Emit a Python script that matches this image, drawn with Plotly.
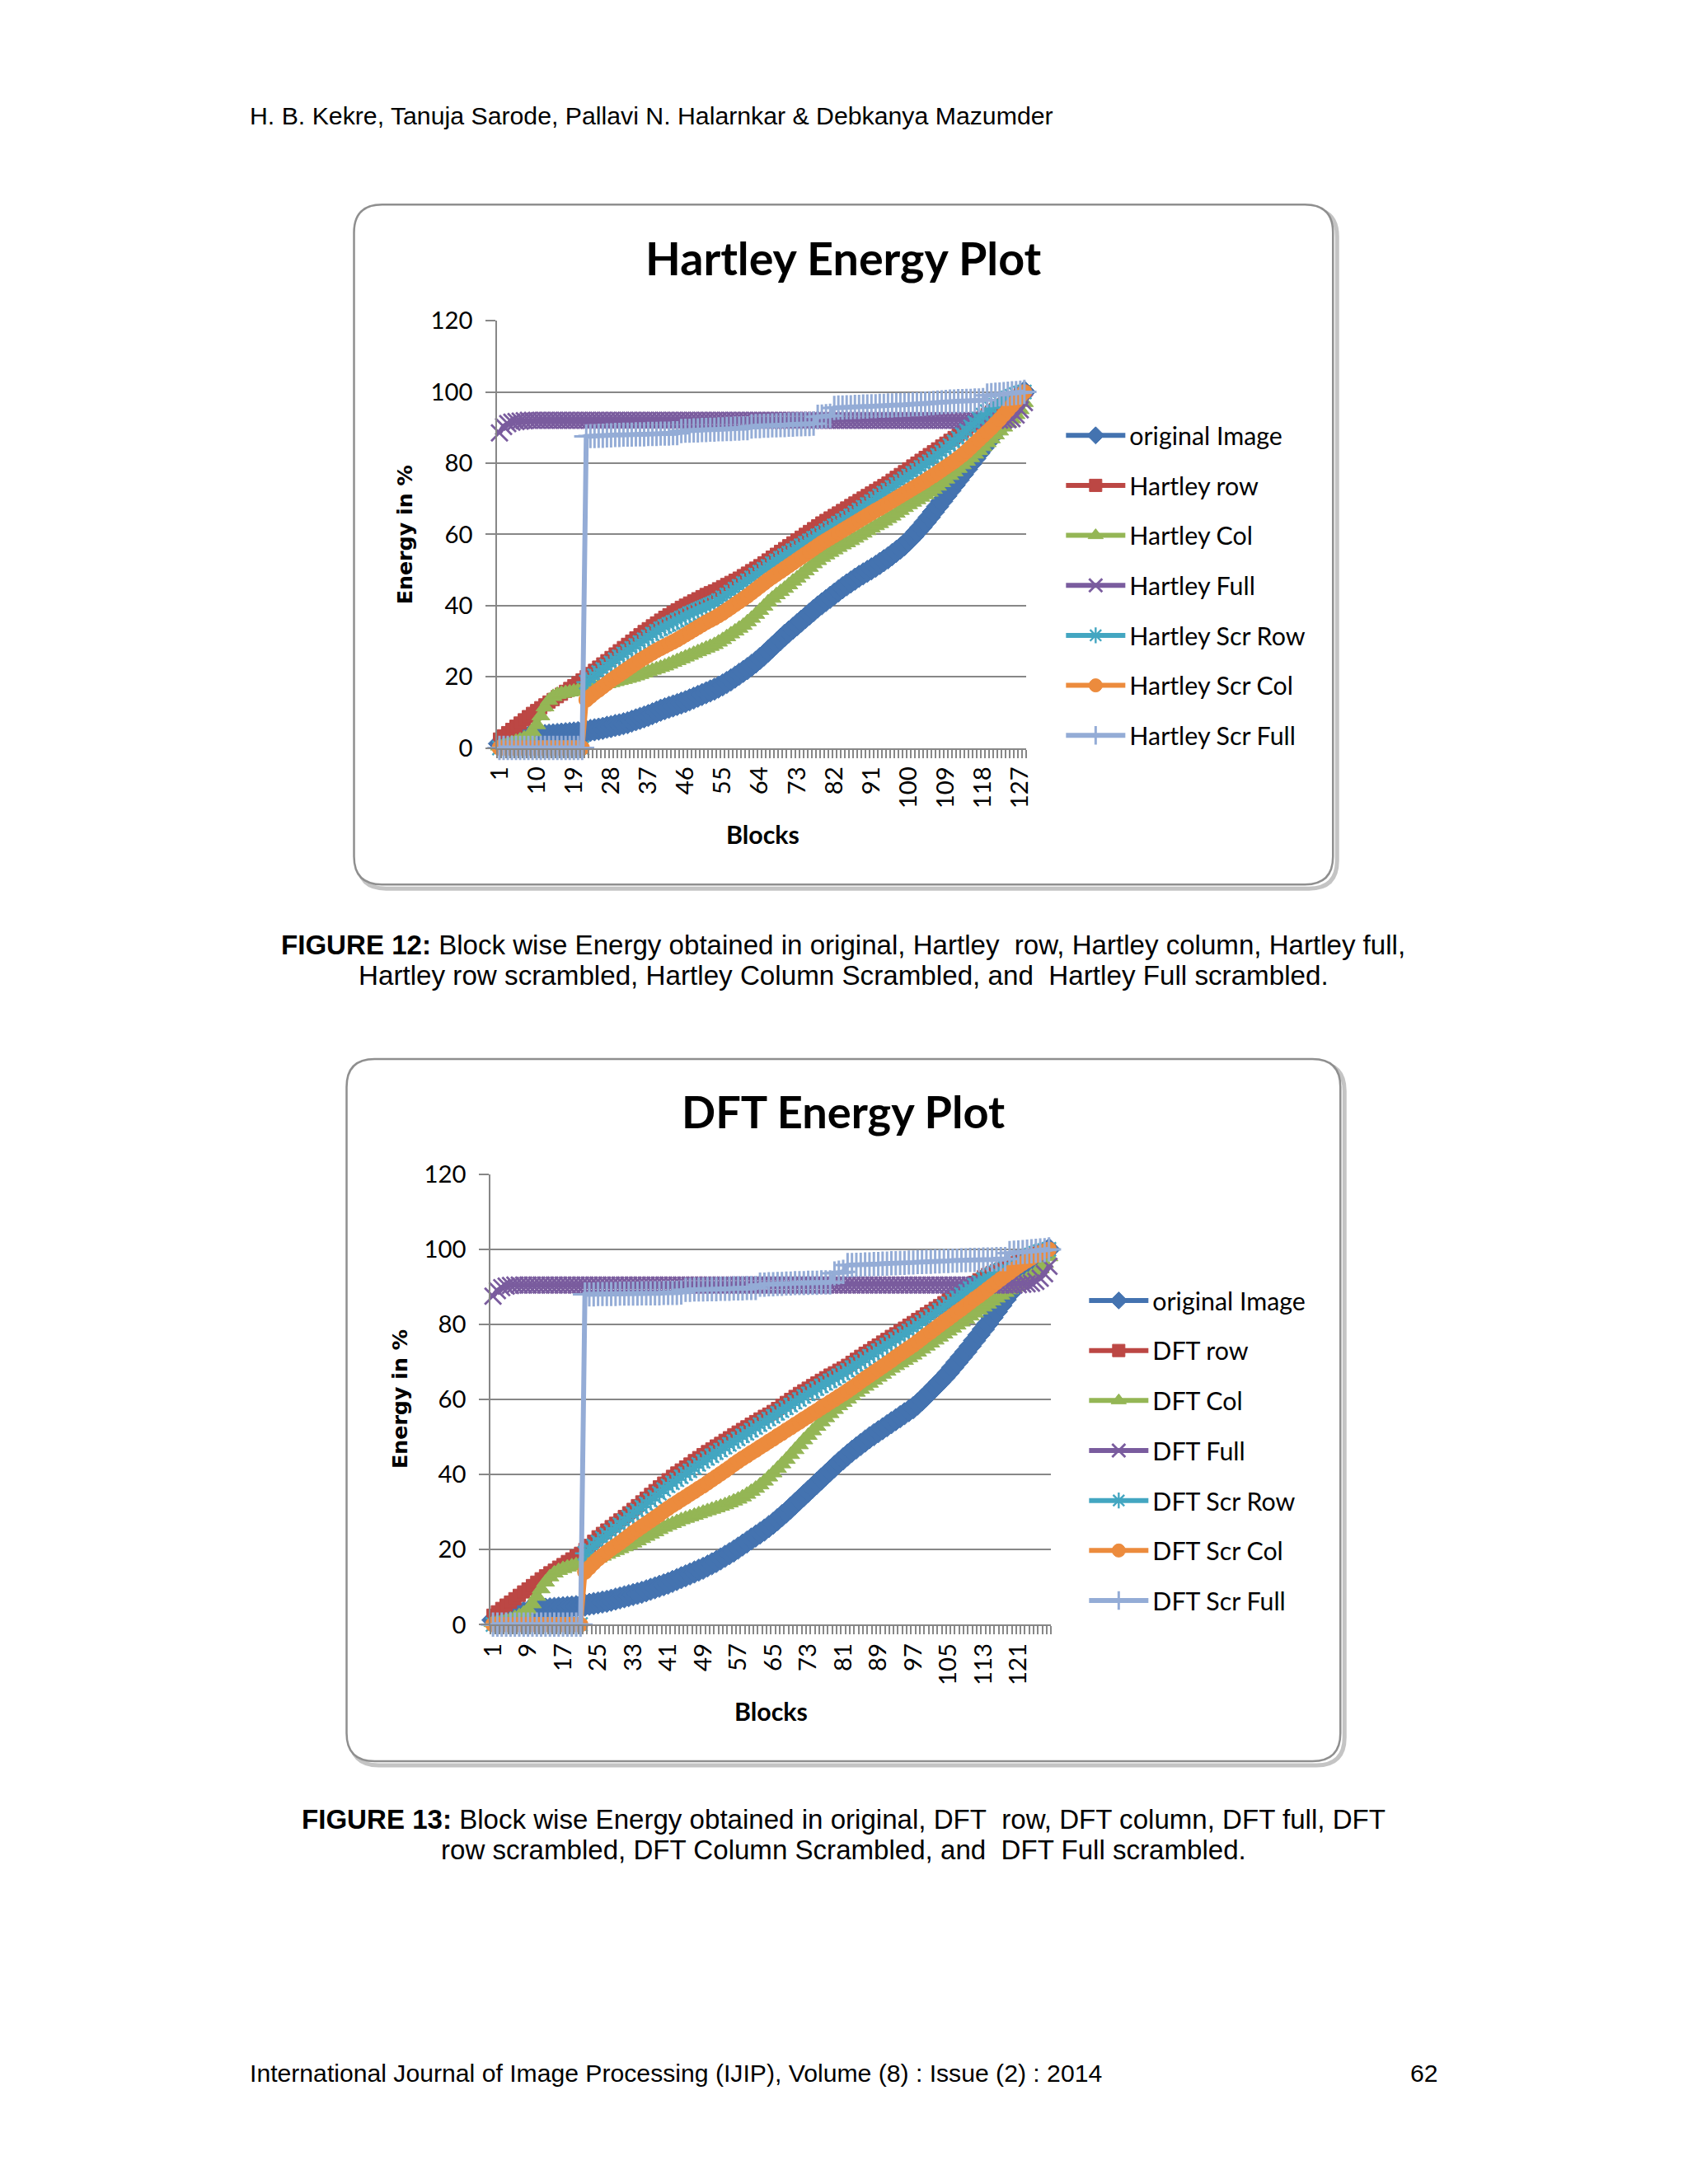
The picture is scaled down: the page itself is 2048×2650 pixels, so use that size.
import plotly.graph_objects as go

W, H = 2048, 2650
FONT = "Lato"
TEXT_FONT = "Liberation Sans"
GRID = "#878787"

# ---------------- data (cumulative energy in %, per block) ----------------
BLOCKS = list(range(1, 129))
Y_TICKS = [0, 20, 40, 60, 80, 100, 120]
HARTLEY_TICKS = [1, 10, 19, 28, 37, 46, 55, 64, 73, 82, 91, 100, 109, 118, 127]
DFT_TICKS = [1, 9, 17, 25, 33, 41, 49, 57, 65, 73, 81, 89, 97, 105, 113, 121]

HARTLEY_NAMES = ["original Image", "Hartley row", "Hartley Col", "Hartley Full",
                 "Hartley Scr Row", "Hartley Scr Col", "Hartley Scr Full"]
DFT_NAMES = ["original Image", "DFT row", "DFT Col", "DFT Full",
             "DFT Scr Row", "DFT Scr Col", "DFT Scr Full"]

hartley_original = [
    1.2, 1.5, 1.8, 2.1, 2.4, 2.6, 2.8, 3.0, 3.2, 3.3,
    3.4, 3.5, 3.6, 3.7, 3.8, 3.9, 4.0, 4.1, 4.2, 4.3,
    4.5, 4.7, 4.9, 5.1, 5.3, 5.5, 5.8, 6.0, 6.3, 6.5,
    6.8, 7.1, 7.5, 7.9, 8.3, 8.7, 9.1, 9.6, 10.1, 10.6,
    11.0, 11.4, 11.8, 12.2, 12.6, 13.0, 13.5, 14.0, 14.5, 15.0,
    15.5, 16.0, 16.5, 17.1, 17.7, 18.4, 19.1, 19.9, 20.7, 21.5,
    22.3, 23.2, 24.1, 25.1, 26.1, 27.2, 28.3, 29.4, 30.5, 31.6,
    32.6, 33.6, 34.6, 35.6, 36.6, 37.6, 38.6, 39.6, 40.5, 41.4,
    42.3, 43.2, 44.1, 45.0, 45.8, 46.6, 47.4, 48.2, 48.9, 49.6,
    50.3, 51.0, 51.8, 52.6, 53.4, 54.3, 55.2, 56.1, 57.1, 58.2,
    59.4, 60.7, 62.0, 63.4, 64.8, 66.3, 67.8, 69.3, 70.8, 72.3,
    73.8, 75.3, 76.8, 78.3, 79.8, 81.3, 82.8, 84.3, 85.8, 87.4,
    89.0, 90.7, 92.4, 94.1, 95.8, 97.4, 98.9, 100.0]
hartley_row = [
    2.5, 3.4, 4.3, 5.2, 6.1, 7.0, 7.9, 8.8, 9.7, 10.5,
    11.3, 12.1, 12.9, 13.6, 14.4, 15.1, 15.9, 16.7, 17.5, 18.3,
    19.1, 20.0, 20.9, 21.8, 22.7, 23.6, 24.5, 25.4, 26.4, 27.3,
    28.2, 29.1, 30.0, 30.9, 31.8, 32.7, 33.5, 34.3, 35.1, 35.9,
    36.7, 37.4, 38.1, 38.8, 39.5, 40.1, 40.7, 41.3, 41.9, 42.5,
    43.1, 43.6, 44.1, 44.7, 45.3, 45.9, 46.5, 47.1, 47.7, 48.4,
    49.1, 49.8, 50.5, 51.2, 52.0, 52.8, 53.6, 54.4, 55.2, 56.0,
    56.8, 57.6, 58.4, 59.2, 60.0, 60.8, 61.6, 62.4, 63.2, 63.9,
    64.6, 65.3, 66.0, 66.7, 67.4, 68.1, 68.8, 69.5, 70.2, 70.9,
    71.6, 72.3, 73.0, 73.7, 74.4, 75.2, 76.0, 76.8, 77.6, 78.4,
    79.2, 80.0, 80.8, 81.6, 82.4, 83.2, 84.0, 84.8, 85.6, 86.4,
    87.2, 88.0, 88.8, 89.6, 90.4, 91.2, 92.0, 92.8, 93.6, 94.3,
    95.0, 95.7, 96.4, 97.1, 97.8, 98.5, 99.2, 100.0]
hartley_col = [
    0.5, 0.8, 1.1, 1.4, 1.8, 2.2, 2.7, 3.3, 4.5, 6.5,
    9.0, 11.5, 13.3, 14.4, 15.0, 15.3, 15.5, 15.7, 15.9, 16.1,
    16.3, 16.5, 16.8, 17.1, 17.4, 17.7, 18.0, 18.3, 18.6, 18.9,
    19.2, 19.5, 19.8, 20.2, 20.6, 21.0, 21.4, 21.8, 22.2, 22.6,
    23.0, 23.5, 24.0, 24.5, 25.0, 25.5, 26.0, 26.5, 27.0, 27.5,
    28.0, 28.5, 29.0, 29.7, 30.4, 31.2, 32.0, 32.8, 33.6, 34.4,
    35.4, 36.4, 37.5, 38.6, 39.8, 41.0, 42.0, 43.0, 43.9, 44.8,
    45.8, 46.8, 47.7, 48.7, 49.7, 50.7, 51.7, 52.6, 53.5, 54.2,
    54.9, 55.6, 56.3, 57.0, 57.6, 58.2, 58.9, 59.6, 60.3, 61.0,
    61.7, 62.4, 63.0, 63.7, 64.4, 65.1, 65.9, 66.7, 67.5, 68.3,
    69.0, 69.7, 70.4, 71.1, 71.8, 72.6, 73.5, 74.5, 75.5, 76.5,
    77.5, 78.5, 79.5, 80.5, 81.5, 82.5, 83.5, 84.6, 85.7, 86.8,
    87.9, 89.0, 90.1, 91.2, 92.4, 93.6, 95.0, 97.0]
hartley_full = [
    88.5, 90.3, 91.1, 91.5, 91.7, 91.8, 91.9, 92.0, 92.0, 92.0,
    92.0, 92.0, 92.0, 92.0, 92.0, 92.0, 92.0, 92.0, 92.0, 92.0,
    92.0, 92.0, 92.0, 92.0, 92.0, 92.0, 92.0, 92.0, 92.0, 92.0,
    92.0, 92.0, 92.0, 92.0, 92.0, 92.0, 92.0, 92.0, 92.0, 92.0,
    92.0, 92.0, 92.0, 92.0, 92.0, 92.0, 92.0, 92.0, 92.0, 92.0,
    92.0, 92.0, 92.0, 92.0, 92.0, 92.0, 92.0, 92.0, 92.0, 92.0,
    92.0, 92.0, 92.0, 92.0, 92.0, 92.0, 92.0, 92.0, 92.0, 92.0,
    92.0, 92.0, 92.0, 92.0, 92.0, 92.0, 92.0, 92.0, 92.0, 92.0,
    92.0, 92.0, 92.0, 92.0, 92.0, 92.0, 92.0, 92.0, 92.0, 92.0,
    92.0, 92.0, 92.0, 92.0, 92.0, 92.0, 92.0, 92.0, 92.0, 92.0,
    92.0, 92.0, 92.0, 92.0, 92.0, 92.0, 92.0, 92.0, 92.0, 92.0,
    92.0, 92.0, 92.0, 92.0, 92.0, 92.0, 92.0, 92.0, 92.0, 92.0,
    92.0, 92.1, 92.1, 92.2, 92.5, 93.5, 95.0, 97.0]
hartley_scr_row = [
    0, 0, 0, 0, 0, 0, 0, 0, 0, 0,
    0, 0, 0, 0, 0, 0, 0, 0, 0, 0,
    0, 18.5, 19.4, 20.3, 21.2, 22.1, 23.0, 23.9, 24.8, 25.6,
    26.4, 27.2, 28.0, 28.8, 29.6, 30.4, 31.2, 32.0, 32.8, 33.5,
    34.1, 34.7, 35.3, 35.9, 36.5, 37.1, 37.7, 38.2, 38.7, 39.2,
    39.7, 40.2, 40.7, 41.4, 42.2, 43.0, 43.8, 44.6, 45.4, 46.2,
    47.0, 47.8, 48.6, 49.4, 50.2, 51.0, 51.8, 52.6, 53.3, 54.0,
    54.7, 55.4, 56.1, 56.8, 57.5, 58.2, 58.9, 59.6, 60.3, 61.0,
    61.7, 62.4, 63.1, 63.8, 64.5, 65.2, 66.0, 66.8, 67.6, 68.4,
    69.2, 70.0, 70.8, 71.6, 72.4, 73.2, 74.0, 74.8, 75.6, 76.4,
    77.2, 78.0, 78.8, 79.6, 80.4, 81.3, 82.2, 83.1, 84.0, 85.0,
    86.0, 87.0, 88.0, 89.1, 90.2, 91.3, 92.4, 93.5, 94.5, 95.4,
    96.2, 97.0, 97.7, 98.3, 98.8, 99.3, 99.7, 100.0]
hartley_scr_col = [
    0, 0, 0, 0, 0, 0, 0, 0, 0, 0,
    0, 0, 0, 0, 0, 0, 0, 0, 0, 0,
    0, 13.5, 14.5, 15.5, 16.3, 17.2, 18.1, 19.0, 19.8, 20.6,
    21.4, 22.2, 23.0, 23.8, 24.6, 25.3, 26.0, 26.7, 27.4, 28.0,
    28.6, 29.2, 29.8, 30.4, 31.1, 31.8, 32.5, 33.2, 33.9, 34.6,
    35.3, 35.9, 36.5, 37.2, 37.9, 38.7, 39.5, 40.3, 41.1, 41.9,
    42.7, 43.6, 44.5, 45.4, 46.3, 47.2, 48.0, 48.8, 49.6, 50.4,
    51.2, 52.0, 52.8, 53.6, 54.4, 55.2, 56.0, 56.8, 57.6, 58.3,
    59.0, 59.7, 60.4, 61.1, 61.8, 62.5, 63.2, 63.9, 64.6, 65.3,
    66.0, 66.7, 67.3, 68.0, 68.7, 69.4, 70.1, 70.8, 71.5, 72.2,
    72.9, 73.6, 74.3, 75.0, 75.8, 76.5, 77.3, 78.1, 78.9, 79.7,
    80.5, 81.4, 82.3, 83.3, 84.4, 85.5, 86.6, 87.7, 88.8, 89.9,
    91.1, 92.3, 93.6, 94.9, 96.2, 97.5, 98.8, 100.0]
hartley_scr_full = [
    0, 0, 0, 0, 0, 0, 0, 0, 0, 0,
    0, 0, 0, 0, 0, 0, 0, 0, 0, 0,
    0, 87.5, 87.6, 87.6, 87.7, 87.7, 87.8, 87.8, 87.9, 87.9,
    88.0, 88.0, 88.0, 88.1, 88.1, 88.1, 88.2, 88.2, 88.2, 88.3,
    88.3, 88.3, 88.4, 88.4, 89.0, 89.1, 89.1, 89.2, 89.2, 89.3,
    89.3, 89.4, 89.4, 89.5, 89.5, 89.6, 89.6, 89.7, 89.7, 89.8,
    89.8, 90.3, 90.4, 90.4, 90.5, 90.5, 90.6, 90.6, 90.7, 90.7,
    90.8, 90.8, 90.9, 90.9, 91.0, 91.0, 91.1, 93.0, 93.1, 93.2,
    93.3, 95.5, 95.6, 95.6, 95.7, 95.7, 95.8, 95.8, 95.9, 95.9,
    96.0, 96.0, 96.1, 96.1, 96.2, 96.2, 96.3, 96.3, 96.4, 96.4,
    96.5, 96.5, 96.6, 96.7, 96.8, 96.9, 97.0, 97.1, 97.2, 97.3,
    97.3, 97.4, 97.4, 97.5, 97.5, 97.6, 97.6, 97.7, 99.0, 99.1,
    99.2, 99.3, 99.4, 99.5, 99.6, 99.7, 99.8, 100.0]

dft_original = [
    1.2, 1.5, 1.8, 2.1, 2.4, 2.7, 3.0, 3.2, 3.4, 3.6,
    3.8, 4.0, 4.1, 4.2, 4.3, 4.4, 4.5, 4.6, 4.7, 4.8,
    5.0, 5.2, 5.4, 5.6, 5.8, 6.0, 6.2, 6.5, 6.8, 7.1,
    7.4, 7.7, 8.0, 8.3, 8.6, 9.0, 9.4, 9.8, 10.2, 10.6,
    11.0, 11.5, 12.0, 12.5, 13.0, 13.5, 14.0, 14.5, 15.0, 15.6,
    16.2, 16.8, 17.5, 18.2, 18.9, 19.6, 20.4, 21.2, 22.0, 22.8,
    23.6, 24.4, 25.2, 26.1, 27.0, 28.0, 29.0, 30.0, 31.1, 32.2,
    33.3, 34.4, 35.5, 36.6, 37.7, 38.8, 39.9, 41.0, 42.1, 43.2,
    44.2, 45.2, 46.2, 47.1, 48.0, 48.9, 49.8, 50.6, 51.4, 52.2,
    53.0, 53.8, 54.6, 55.4, 56.2, 57.0, 57.8, 58.8, 59.9, 61.0,
    62.2, 63.4, 64.6, 65.8, 67.1, 68.5, 69.9, 71.3, 72.7, 74.2,
    75.7, 77.2, 78.7, 80.2, 81.8, 83.4, 85.0, 86.6, 88.2, 89.8,
    91.4, 93.0, 94.6, 96.0, 97.2, 98.3, 99.3, 100.0]
dft_row = [
    2.5, 3.4, 4.3, 5.2, 6.0, 6.9, 7.8, 8.7, 9.5, 10.4,
    11.3, 12.2, 13.0, 13.8, 14.5, 15.3, 16.0, 16.8, 17.5, 18.3,
    19.0, 20.0, 21.1, 22.2, 23.4, 24.3, 25.2, 26.1, 27.0, 27.9,
    28.8, 29.8, 30.7, 31.7, 32.7, 33.7, 34.7, 35.7, 36.7, 37.7,
    38.6, 39.5, 40.4, 41.2, 42.0, 42.8, 43.7, 44.5, 45.3, 46.1,
    46.8, 47.6, 48.3, 49.1, 49.8, 50.6, 51.3, 52.0, 52.7, 53.4,
    54.1, 54.8, 55.5, 56.1, 56.8, 57.6, 58.4, 59.2, 60.0, 60.8,
    61.6, 62.3, 63.0, 63.7, 64.4, 65.1, 65.8, 66.5, 67.1, 67.8,
    68.4, 69.1, 69.9, 70.7, 71.5, 72.3, 73.0, 73.8, 74.5, 75.3,
    76.0, 76.8, 77.5, 78.3, 79.0, 79.8, 80.5, 81.3, 82.0, 82.8,
    83.5, 84.3, 85.0, 85.8, 86.6, 87.4, 88.2, 88.9, 89.7, 90.4,
    91.2, 91.9, 92.7, 93.3, 93.8, 94.3, 94.8, 95.3, 95.8, 96.4,
    97.0, 97.5, 98.0, 98.5, 99.0, 99.4, 99.7, 100.0]
dft_col = [
    0.5, 0.7, 0.9, 1.1, 1.4, 1.8, 2.3, 3.0, 4.0, 5.5,
    7.5, 9.5, 11.3, 12.7, 13.7, 14.4, 14.9, 15.3, 15.6, 15.9,
    16.2, 16.5, 16.9, 17.3, 17.7, 18.2, 18.7, 19.2, 19.7, 20.2,
    20.7, 21.2, 21.7, 22.3, 22.9, 23.5, 24.1, 24.7, 25.3, 25.9,
    26.4, 26.9, 27.4, 27.9, 28.3, 28.7, 29.1, 29.5, 29.9, 30.3,
    30.7, 31.1, 31.5, 31.9, 32.4, 32.9, 33.4, 34.0, 34.7, 35.5,
    36.3, 37.2, 38.2, 39.3, 40.4, 41.6, 42.8, 44.0, 45.3, 46.6,
    47.9, 49.2, 50.4, 51.6, 52.8, 54.0, 55.1, 56.2, 57.3, 58.3,
    59.2, 60.1, 61.0, 61.9, 62.7, 63.5, 64.3, 65.1, 65.9, 66.7,
    67.5, 68.3, 69.0, 69.7, 70.4, 71.1, 71.8, 72.6, 73.4, 74.2,
    75.0, 75.8, 76.6, 77.4, 78.2, 79.0, 79.8, 80.6, 81.4, 82.2,
    83.0, 83.8, 84.6, 85.4, 86.2, 87.0, 87.8, 88.5, 89.2, 89.9,
    90.6, 91.3, 92.0, 92.8, 93.7, 94.8, 96.2, 98.0]
dft_full = [
    87.5, 89.0, 89.8, 90.2, 90.4, 90.5, 90.5, 90.5, 90.5, 90.5,
    90.5, 90.5, 90.5, 90.5, 90.5, 90.5, 90.5, 90.5, 90.5, 90.5,
    90.5, 90.5, 90.5, 90.5, 90.5, 90.5, 90.5, 90.5, 90.5, 90.5,
    90.5, 90.5, 90.5, 90.5, 90.5, 90.5, 90.5, 90.5, 90.5, 90.5,
    90.5, 90.5, 90.5, 90.5, 90.5, 90.5, 90.5, 90.5, 90.5, 90.5,
    90.5, 90.5, 90.5, 90.5, 90.5, 90.5, 90.5, 90.5, 90.5, 90.5,
    90.5, 90.5, 90.5, 90.5, 90.5, 90.5, 90.5, 90.5, 90.5, 90.5,
    90.5, 90.5, 90.5, 90.5, 90.5, 90.5, 90.5, 90.5, 90.5, 90.5,
    90.5, 90.5, 90.5, 90.5, 90.5, 90.5, 90.5, 90.5, 90.5, 90.5,
    90.5, 90.5, 90.5, 90.5, 90.5, 90.5, 90.5, 90.5, 90.5, 90.5,
    90.5, 90.5, 90.5, 90.5, 90.5, 90.5, 90.5, 90.5, 90.5, 90.5,
    90.5, 90.5, 90.5, 90.5, 90.5, 90.5, 90.5, 90.5, 90.5, 90.5,
    90.6, 90.7, 90.8, 91.0, 91.5, 92.3, 93.5, 95.5]
dft_scr_row = [
    0, 0, 0, 0, 0, 0, 0, 0, 0, 0,
    0, 0, 0, 0, 0, 0, 0, 0, 0, 0,
    0, 19.0, 20.0, 21.0, 22.0, 23.0, 23.9, 24.8, 25.7, 26.6,
    27.6, 28.6, 29.5, 30.4, 31.3, 32.2, 33.1, 34.0, 35.0, 36.0,
    37.0, 37.8, 38.6, 39.4, 40.2, 41.0, 41.8, 42.7, 43.5, 44.3,
    45.0, 45.8, 46.5, 47.3, 48.0, 48.8, 49.5, 50.3, 51.0, 51.8,
    52.5, 53.3, 54.0, 54.8, 55.5, 56.3, 57.0, 57.8, 58.5, 59.3,
    60.0, 60.8, 61.5, 62.2, 62.9, 63.6, 64.3, 65.0, 65.6, 66.3,
    67.0, 67.8, 68.5, 69.3, 70.0, 70.8, 71.5, 72.3, 73.0, 73.8,
    74.5, 75.3, 76.0, 76.8, 77.5, 78.3, 79.0, 79.8, 80.6, 81.4,
    82.2, 83.0, 83.8, 84.7, 85.5, 86.3, 87.1, 88.0, 88.8, 89.6,
    90.4, 91.2, 92.0, 92.6, 93.2, 93.8, 94.4, 95.0, 95.6, 96.3,
    97.0, 97.5, 98.0, 98.5, 99.0, 99.4, 99.7, 100.0]
dft_scr_col = [
    0, 0, 0, 0, 0, 0, 0, 0, 0, 0,
    0, 0, 0, 0, 0, 0, 0, 0, 0, 0,
    0, 14.0, 15.2, 16.4, 17.5, 18.4, 19.3, 20.2, 21.0, 21.8,
    22.7, 23.6, 24.5, 25.3, 26.1, 26.9, 27.7, 28.5, 29.3, 30.2,
    31.0, 31.8, 32.5, 33.3, 34.0, 34.8, 35.5, 36.3, 37.0, 37.8,
    38.6, 39.4, 40.2, 41.0, 41.8, 42.7, 43.5, 44.3, 45.0, 45.8,
    46.5, 47.3, 48.0, 48.8, 49.5, 50.3, 51.0, 51.8, 52.5, 53.3,
    54.0, 54.8, 55.5, 56.3, 57.0, 57.8, 58.5, 59.3, 60.0, 60.8,
    61.5, 62.3, 63.1, 63.9, 64.8, 65.6, 66.4, 67.2, 68.0, 68.8,
    69.6, 70.4, 71.3, 72.1, 72.9, 73.7, 74.5, 75.4, 76.3, 77.2,
    78.0, 78.9, 79.8, 80.7, 81.5, 82.4, 83.3, 84.1, 85.0, 85.9,
    86.8, 87.6, 88.5, 89.4, 90.3, 91.2, 92.1, 93.0, 93.8, 94.7,
    95.5, 96.3, 97.0, 97.7, 98.4, 99.0, 99.5, 100.0]
dft_scr_full = [
    0, 0, 0, 0, 0, 0, 0, 0, 0, 0,
    0, 0, 0, 0, 0, 0, 0, 0, 0, 0,
    0, 88.0, 88.0, 88.0, 88.1, 88.1, 88.1, 88.1, 88.1, 88.2,
    88.2, 88.2, 88.2, 88.2, 88.3, 88.3, 88.3, 88.3, 88.3, 88.4,
    88.4, 88.4, 88.4, 88.5, 89.2, 89.2, 89.3, 89.3, 89.3, 89.4,
    89.4, 89.4, 89.5, 89.5, 89.5, 89.6, 89.6, 89.6, 89.7, 89.7,
    89.7, 90.6, 90.6, 90.7, 90.7, 90.8, 90.8, 90.9, 90.9, 91.0,
    91.0, 91.0, 91.1, 91.1, 91.1, 91.2, 91.2, 91.2, 93.6, 93.8,
    94.0, 95.8, 95.8, 95.9, 95.9, 96.0, 96.0, 96.1, 96.1, 96.2,
    96.2, 96.3, 96.3, 96.4, 96.4, 96.5, 96.5, 96.6, 96.6, 96.7,
    96.7, 96.8, 96.8, 96.9, 96.9, 97.0, 97.0, 97.1, 97.1, 97.2,
    97.2, 97.2, 97.3, 97.3, 97.3, 97.4, 97.4, 97.4, 99.0, 99.1,
    99.2, 99.3, 99.4, 99.5, 99.6, 99.7, 99.8, 100.0]

HARTLEY = [hartley_original, hartley_row, hartley_col, hartley_full,
           hartley_scr_row, hartley_scr_col, hartley_scr_full]
DFT = [dft_original, dft_row, dft_col, dft_full,
       dft_scr_row, dft_scr_col, dft_scr_full]
for s in HARTLEY + DFT:
    assert len(s) == len(BLOCKS)

# ---------------- styles ----------------
COLORS = ["#4473B0", "#BC4744", "#94B655", "#7A5C9E", "#43A6C1", "#EC8B3D", "#94ACD6"]
# (symbol, size, outline width)
MARKERS = [("diamond", 21, 1), ("square", 15, 1), ("triangle-up", 19, 1),
           ("x-thin-open", 20, 2.8), ("asterisk-open", 20, 2.4),
           ("circle", 18, 1), ("cross-thin-open", 21, 3)]

# the page photo comes out slightly shrunk and shifted; positions below are
# measured on the reference, then mapped back through that
SHIFT, SCALE = 25.4, 0.988


def fx(x):
    return (x - SHIFT) / SCALE / W


def fy(y):
    return 1 - (y - SHIFT) / SCALE / H


def fs(size):
    return size / SCALE


def rounded_box(x0, y0, x1, y1, r):
    # path in paper units, corners rounded by r pixels
    def p(x, y):
        return f"{fx(x):.5f},{fy(y):.5f}"
    return (f"M {p(x0 + r, y0)} L {p(x1 - r, y0)} Q {p(x1, y0)} {p(x1, y0 + r)} "
            f"L {p(x1, y1 - r)} Q {p(x1, y1)} {p(x1 - r, y1)} "
            f"L {p(x0 + r, y1)} Q {p(x0, y1)} {p(x0, y1 - r)} "
            f"L {p(x0, y0 + r)} Q {p(x0, y0)} {p(x0 + r, y0)} Z")


fig = go.Figure()


def add_series(data, names, xa, ya, legend):
    for i, (ys, name) in enumerate(zip(data, names)):
        sym, size, lw = MARKERS[i]
        fig.add_trace(go.Scatter(
            x=BLOCKS, y=ys, name=name, mode="lines+markers",
            xaxis=xa, yaxis=ya, legend=legend, legendgroup=f"{legend}_{i}",
            line=dict(color=COLORS[i], width=6),
            marker=dict(symbol=sym, size=size, color=COLORS[i],
                        line=dict(color=COLORS[i], width=lw)),
            cliponaxis=False))


add_series(HARTLEY, HARTLEY_NAMES, "x", "y", "legend")
add_series(DFT, DFT_NAMES, "x2", "y2", "legend2")

tick_font = dict(family=FONT, size=fs(29), color="black")


def x_axis(x0, x1, ticks, anchor):
    return dict(domain=[fx(x0), fx(x1)], range=[0.5, len(BLOCKS) + 0.5],
                anchor=anchor, tickmode="array", tickvals=ticks, tickangle=-90,
                ticks="", ticklabelstandoff=9, showgrid=False, zeroline=False,
                showline=True, linecolor=GRID, linewidth=2, tickfont=tick_font,
                minor=dict(tickmode="linear", tick0=0.5, dtick=1, ticks="outside",
                           ticklen=10, tickwidth=1.5, tickcolor=GRID, showgrid=False))


def y_axis(top, bottom, anchor):
    return dict(domain=[fy(bottom), fy(top)], range=[0, 120], anchor=anchor,
                tickmode="array", tickvals=Y_TICKS, ticks="outside", ticklen=12,
                tickwidth=2, tickcolor=GRID, ticklabelstandoff=10,
                showgrid=True, gridcolor=GRID, gridwidth=2, zeroline=False,
                showline=True, linecolor=GRID, linewidth=2, tickfont=tick_font)


def legend_cfg(x, top):
    return dict(x=fx(x), y=fy(top), xanchor="left", yanchor="top",
                font=dict(family=FONT, size=fs(30), color="black"),
                tracegroupgap=18.2, itemwidth=72, bgcolor="rgba(0,0,0,0)",
                itemclick=False)


shapes = []
for (x0, y0, x1, y1) in [(430, 247, 1618, 1073), (421, 1285, 1627, 2138)]:
    shapes.append(dict(type="path", path=rounded_box(x0 + 5, y0 + 5, x1 + 5, y1 + 5, 34),
                       xref="paper", yref="paper", layer="below",
                       line=dict(color="#C4C4C4", width=5)))
    shapes.append(dict(type="path", path=rounded_box(x0, y0, x1, y1, 34),
                       xref="paper", yref="paper", layer="below",
                       fillcolor="white", line=dict(color="#8F8F8F", width=2.5)))

annotations = []


def text(s, x, y, size, family=TEXT_FONT, anchor="center", angle=0, bold=False):
    annotations.append(dict(text=f"<b>{s}</b>" if bold else s, x=fx(x), y=fy(y),
                            xref="paper", yref="paper", showarrow=False,
                            xanchor=anchor, yanchor="middle", textangle=angle,
                            font=dict(family=family, size=fs(size), color="black")))


text("H. B. Kekre, Tanuja Sarode, Pallavi N. Halarnkar &amp; Debkanya Mazumder",
     301, 139, 29.9, anchor="left")

text("Hartley Energy Plot", 1024, 311, 55, family=FONT, bold=True)
text("Energy in %", 492, 648, 25, family="DejaVu Sans", angle=-90, bold=True)
text("Blocks", 926, 1012, 30, family=FONT, bold=True)
text("<b>FIGURE 12:</b> Block wise Energy obtained in original, Hartley&nbsp; row, "
     "Hartley column, Hartley full,", 1024, 1146, 32.7)
text("Hartley row scrambled, Hartley Column Scrambled, and&nbsp; Hartley Full scrambled.",
     1024, 1183, 32.8)

text("DFT Energy Plot", 1024, 1349, 53.5, family=FONT, bold=True)
text("Energy in %", 486, 1698, 25, family="DejaVu Sans", angle=-90, bold=True)
text("Blocks", 936, 2077, 30, family=FONT, bold=True)
text("<b>FIGURE 13:</b> Block wise Energy obtained in original, DFT&nbsp; row, "
     "DFT column, DFT full, DFT", 1024, 2209, 32.7)
text("row scrambled, DFT Column Scrambled, and&nbsp; DFT Full scrambled.",
     1024, 2246, 32.7)

text("International Journal of Image Processing (IJIP), Volume (8) : Issue (2) : 2014",
     301, 2517, 29.8, anchor="left")
text("62", 1748, 2517, 29.8, anchor="right")

fig.update_layout(
    width=W, height=H, margin=dict(l=0, r=0, t=0, b=0),
    paper_bgcolor="white", plot_bgcolor="rgba(0,0,0,0)",
    showlegend=True,
    xaxis=x_axis(604, 1246, HARTLEY_TICKS, "y"),
    yaxis=y_axis(388, 907, "x"),
    xaxis2=x_axis(596, 1276, DFT_TICKS, "y2"),
    yaxis2=y_axis(1425, 1972, "x2"),
    legend=legend_cfg(1289, 501),
    legend2=legend_cfg(1317, 1552),
    shapes=shapes, annotations=annotations,
)

fig.write_html("out.html")
